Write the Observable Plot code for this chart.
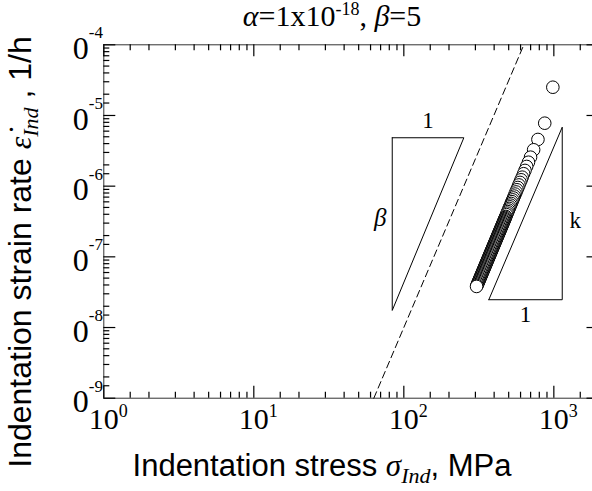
<!DOCTYPE html>
<html><head><meta charset="utf-8">
<script src="https://cdn.jsdelivr.net/npm/d3@7"></script>
<script src="https://cdn.jsdelivr.net/npm/@observablehq/plot@0.6"></script>
<style>html,body{margin:0;padding:0;background:#fff;} svg{display:block}</style>
</head><body><div id="chart"></div>
<script>
// Indentation creep data (time order: high stress first)
const stress = [984.7, 869.6, 783.4, 733.3, 699.3, 677.3, 658.8, 642.2, 628.7, 615.2, 605.0, 594.6, 585.2, 575.9, 567.4, 559.5, 552.0, 545.0, 538.4, 531.8, 525.7, 519.7, 514.1, 508.5, 503.3, 498.2, 493.1, 488.4, 483.8,
  478.5, 475.4, 472.4, 469.3, 466.3, 463.3, 460.4, 457.4, 454.5, 451.6, 448.7, 445.8, 442.9, 440.1, 437.3, 434.5, 431.7, 428.9, 426.2, 423.5, 420.8, 418.1, 415.4, 412.8, 410.1, 407.5, 404.9, 402.3, 399.7, 397.2, 394.6, 392.1, 389.6, 387.1, 384.6, 382.2, 379.7, 377.3, 374.9, 372.5, 370.1, 367.7, 365.4, 363.0, 360.7, 358.4, 356.1, 353.8, 351.6, 349.3, 347.1, 344.9, 342.7, 340.5, 338.3, 336.1, 334.0, 331.8, 329.7, 327.6, 325.5, 323.4, 321.4, 319.3, 317.3, 315.2, 313.2, 311.2, 309.2, 307.3, 305.3];
const strainRate = [2.51e-5, 7.78e-6, 4.58e-6, 3.27e-6, 2.57e-6, 2.18e-6, 1.90e-6, 1.67e-6, 1.50e-6, 1.34e-6, 1.23e-6, 1.13e-6, 1.04e-6, 9.58e-7, 8.89e-7, 8.28e-7, 7.73e-7, 7.24e-7, 6.81e-7, 6.40e-7, 6.03e-7, 5.69e-7, 5.39e-7, 5.10e-7, 4.84e-7, 4.59e-7, 4.36e-7, 4.15e-7, 3.95e-7,
  3.727e-7, 3.607e-7, 3.492e-7, 3.380e-7, 3.272e-7, 3.167e-7, 3.065e-7, 2.967e-7, 2.872e-7, 2.780e-7, 2.691e-7, 2.605e-7, 2.521e-7, 2.441e-7, 2.362e-7, 2.287e-7, 2.213e-7, 2.142e-7, 2.074e-7, 2.007e-7, 1.943e-7, 1.881e-7, 1.821e-7, 1.762e-7, 1.706e-7, 1.651e-7, 1.598e-7, 1.547e-7, 1.497e-7, 1.449e-7, 1.403e-7, 1.358e-7, 1.315e-7, 1.272e-7, 1.232e-7, 1.192e-7, 1.154e-7, 1.117e-7, 1.081e-7, 1.047e-7, 1.013e-7, 9.805e-8, 9.490e-8, 9.186e-8, 8.892e-8, 8.607e-8, 8.331e-8, 8.064e-8, 7.806e-8, 7.555e-8, 7.313e-8, 7.080e-8, 6.853e-8, 6.633e-8, 6.421e-8, 6.215e-8, 6.016e-8, 5.823e-8, 5.636e-8, 5.456e-8, 5.281e-8, 5.112e-8, 4.948e-8, 4.789e-8, 4.636e-8, 4.487e-8, 4.344e-8, 4.204e-8, 4.070e-8, 3.939e-8, 3.813e-8];

// Power law  rate = alpha * stress^beta  (alpha = 1e-18, beta = 5)
const lawStress = [63.1, 631];
const lawRate = [1e-9, 1e-4];

// Slope triangles
const triBetaStress = [83.7, 251.2, 83.7, 83.7];
const triBetaRate = [4.84e-6, 4.84e-6, 1.746e-8, 4.84e-6];
const triKStress = [368.6, 1137.6, 1137.6, 368.6];
const triKRate = [2.473e-8, 2.473e-8, 6.83e-6, 2.473e-8];

// Ticks
const xMajor = [1, 10, 100, 1000];
const xMajorExp = ["0", "1", "2", "3"];
const xMinor = [1.5, 2, 3, 4, 5, 6, 7, 8, 9, 15, 20, 30, 40, 50, 60, 70, 80, 90, 150, 200, 300, 400, 500, 600, 700, 800, 900, 1500];
const yMajor = [1e-9, 1e-8, 1e-7, 1e-6, 1e-5, 1e-4];
const yMajorExp = ["-9", "-8", "-7", "-6", "-5", "-4"];
const yMinor = [1.5e-9, 2e-9, 3e-9, 4e-9, 5e-9, 6e-9, 7e-9, 8e-9, 9e-9,
  1.5e-8, 2e-8, 3e-8, 4e-8, 5e-8, 6e-8, 7e-8, 8e-8, 9e-8,
  1.5e-7, 2e-7, 3e-7, 4e-7, 5e-7, 6e-7, 7e-7, 8e-7, 9e-7,
  1.5e-6, 2e-6, 3e-6, 4e-6, 5e-6, 6e-6, 7e-6, 8e-6, 9e-6,
  1.5e-5, 2e-5, 3e-5, 4e-5, 5e-5, 6e-5, 7e-5, 8e-5, 9e-5];

const pts = stress.map((s, i) => ({s, r: strainRate[i]}));
const law = lawStress.map((s, i) => ({s, r: lawRate[i]}));
const tris = [
  ...triBetaStress.map((s, i) => ({s, r: triBetaRate[i], g: "beta"})),
  ...triKStress.map((s, i) => ({s, r: triKRate[i], g: "k"}))
];

const serif = "'Liberation Serif', 'Times New Roman', serif";
const sans = "'Liberation Sans', Arial, sans-serif";

const W = 592, H = 491, mL = 103.3, mR = -6.5, mT = 44.3, mB = 93.3;
const fw = W - mL - mR, fh = H - mT - mB;
const major = 12, minor = 6;
const tickStyle = {stroke: "black", strokeWidth: 1.2};

const chart = Plot.plot({
  width: W,
  height: H,
  marginLeft: mL,
  marginRight: mR,
  marginTop: mT,
  marginBottom: mB,
  x: {type: "log", domain: [1, 2000], axis: null},
  y: {type: "log", domain: [1e-9, 1e-4], axis: null},
  marks: [
    Plot.frame({stroke: "#333"}),
    // inward ticks on all four sides
    Plot.tickX(xMajor, {x: d => d, insetTop: fh - major, ...tickStyle}),
    Plot.tickX(xMinor, {x: d => d, insetTop: fh - minor, ...tickStyle}),
    Plot.tickX(xMajor, {x: d => d, insetBottom: fh - major, ...tickStyle}),
    Plot.tickX(xMinor, {x: d => d, insetBottom: fh - minor, ...tickStyle}),
    Plot.tickY(yMajor, {y: d => d, insetRight: fw - major, ...tickStyle}),
    Plot.tickY(yMinor, {y: d => d, insetRight: fw - minor, ...tickStyle}),
    Plot.tickY(yMajor, {y: d => d, insetLeft: fw - major, ...tickStyle}),
    Plot.tickY(yMinor, {y: d => d, insetLeft: fw - minor, ...tickStyle}),
    // tick labels
    Plot.text(xMajor, {x: d => d, frameAnchor: "bottom", text: () => "10", textAnchor: "middle", lineAnchor: "bottom", dy: 31, fontSize: 30, fontFamily: serif, fill: "black"}),
    Plot.text(xMajor, {x: d => d, frameAnchor: "bottom", text: (d, i) => xMajorExp[i], textAnchor: "start", lineAnchor: "bottom", dx: 15, dy: 19, fontSize: 18, fontFamily: serif, fill: "black"}),
    Plot.text(yMajor, {y: d => d, frameAnchor: "left", text: () => "0", textAnchor: "end", lineAnchor: "middle", dx: -15, dy: 4, fontSize: 32, fontFamily: serif, fill: "black"}),
    Plot.text(yMajor, {y: d => d, frameAnchor: "left", text: (d, i) => yMajorExp[i], textAnchor: "start", lineAnchor: "middle", dx: -15, dy: -12, fontSize: 17, fontFamily: serif, fill: "black"}),
    // power law
    Plot.line(law, {x: "s", y: "r", stroke: "black", strokeWidth: 1, strokeDasharray: "7,4"}),
    // slope triangles
    Plot.line(tris, {x: "s", y: "r", z: "g", stroke: "black", strokeWidth: 1}),
    Plot.text([{s: 145, r: 4.84e-6}], {x: "s", y: "r", text: () => "1", dy: -17, fontSize: 23, fontFamily: serif, fill: "black"}),
    Plot.text([{s: 83.7, r: 3.49e-7}], {x: "s", y: "r", text: () => "β", dx: -12, fontSize: 25, fontFamily: serif, fontStyle: "italic", fill: "black"}),
    Plot.text([{s: 1137.6, r: 3.27e-7}], {x: "s", y: "r", text: () => "k", dx: 13, fontSize: 23, fontFamily: serif, fill: "black"}),
    Plot.text([{s: 647.5, r: 2.473e-8}], {x: "s", y: "r", text: () => "1", dy: 15, fontSize: 23, fontFamily: serif, fill: "black"}),
    // data
    Plot.dot(pts, {x: "s", y: "r", r: 6.3, stroke: "black", fill: "white", strokeWidth: 1})
  ]
});

document.getElementById("chart").appendChild(chart);
const svg = d3.select(chart);

// Title
const title = svg.append("text")
  .attr("x", 332).attr("y", 26)
  .attr("text-anchor", "middle")
  .attr("font-family", serif).attr("font-size", 30).attr("fill", "black");
title.append("tspan").attr("font-style", "italic").text("α");
title.append("tspan").text("=1x10");
title.append("tspan").attr("font-size", 18).attr("dy", -11).text("-18");
title.append("tspan").attr("dy", 11).text(", ");
title.append("tspan").attr("font-style", "italic").text("β");
title.append("tspan").text("=5");

// X axis title
const xt = svg.append("text")
  .attr("x", 322).attr("y", 476)
  .attr("text-anchor", "middle")
  .attr("font-family", sans).attr("font-size", 31).attr("fill", "black");
xt.append("tspan").text("Indentation stress ");
xt.append("tspan").attr("font-family", serif).attr("font-style", "italic").text("σ");
xt.append("tspan").attr("font-family", serif).attr("font-style", "italic").attr("font-size", 22).attr("dy", 7).text("Ind");
xt.append("tspan").attr("dy", -7).text(", MPa");

// Y axis title
const yt = svg.append("text")
  .attr("transform", "translate(31,252) rotate(-90)")
  .attr("text-anchor", "middle")
  .attr("font-family", sans).attr("font-size", 32).attr("fill", "black");
yt.append("tspan").text("Indentation strain rate ");
yt.append("tspan").attr("font-family", serif).attr("font-style", "italic").text("ε\u0307");
yt.append("tspan").attr("font-family", serif).attr("font-style", "italic").attr("font-size", 22).attr("dy", 7).text("Ind");
yt.append("tspan").attr("dy", -7).text(" , 1/h");
</script></body></html>
